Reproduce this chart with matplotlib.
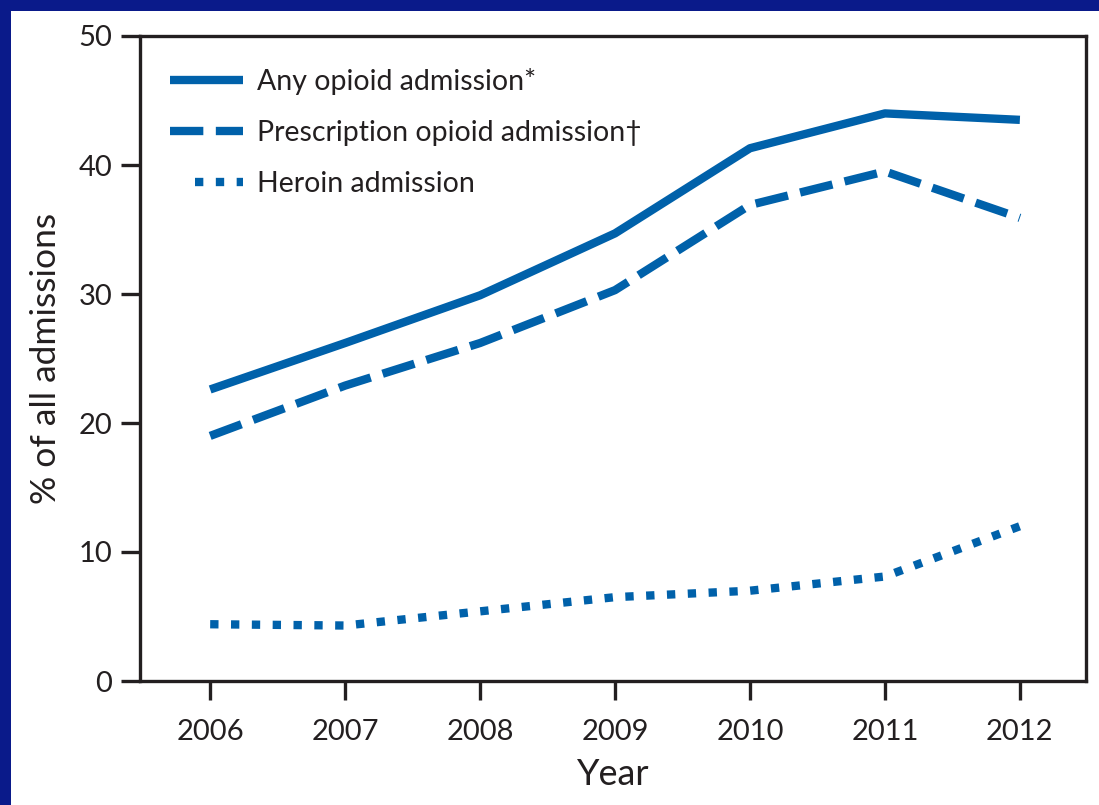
"""Opioid treatment admissions, 2006-2012."""

import matplotlib

matplotlib.use("Agg")

import matplotlib.pyplot as plt
from matplotlib.lines import Line2D
from matplotlib.patches import Rectangle

years = [2006, 2007, 2008, 2009, 2010, 2011, 2012]
any_opioid = [22.6, 26.2, 29.9, 34.7, 41.3, 44.0, 43.5]
prescription_opioid = [19.0, 22.9, 26.2, 30.3, 36.9, 39.5, 35.9]
heroin = [4.4, 4.3, 5.4, 6.5, 7.0, 8.1, 12.0]

labels = [
    "Any opioid admission*",
    "Prescription opioid admission\u2020",
    "Heroin admission",
]
y_ticks = [0, 10, 20, 30, 40, 50]

line_color = "#0061aa"
ink = "#231f20"

plt.rcParams["font.family"] = ["Lato", "DejaVu Sans"]

fig = plt.figure(figsize=(10.99, 8.05), dpi=100)
fig.patch.set_facecolor("#0a1a8a")
# white slide panel behind the chart
panel = Rectangle((11 / 1099, 0), 1, (805 - 11) / 805,
                  transform=fig.transFigure, facecolor="white", edgecolor="none", zorder=-10)
fig.add_artist(panel)

ax = fig.add_axes([140 / 1099, 124 / 805, (1086 - 140) / 1099, (681 - 36) / 805])
ax.set_facecolor("white")

l_any, = ax.plot(years, any_opioid, color=line_color, linewidth=6, solid_capstyle="butt")
l_rx, = ax.plot(years, prescription_opioid, color=line_color, linewidth=6,
                dashes=(4, 1.5), dash_capstyle="butt")
ax.plot(years, heroin, color=line_color, linewidth=6,
        dashes=(1, 1.5), dash_capstyle="butt")

# legend key for heroin: three dots pushed to the right end, like the original
heroin_key = Line2D([], [], color=line_color, linewidth=6, dash_capstyle="butt",
                    linestyle=(7.5, (1, 1.5, 1, 1.5, 1, 4.5)))

ax.set_xlim(2005.48, 2012.49)
ax.set_ylim(0, 50)
ax.set_xticks(years)
ax.set_yticks(y_ticks)

for side in ["left", "right", "top", "bottom"]:
    ax.spines[side].set_color(ink)
    ax.spines[side].set_linewidth(2.4)

ax.tick_params(axis="both", direction="out", length=14, width=2.4, color=ink,
               labelsize=21, labelcolor=ink)
ax.tick_params(axis="x", pad=13)
ax.tick_params(axis="y", pad=6)

ax.set_xlabel("Year", fontsize=26, color=ink, labelpad=10)
ax.set_ylabel("% of all admissions", fontsize=25.5, color=ink, labelpad=12)

ax.legend([l_any, l_rx, heroin_key], labels,
          loc="upper left", bbox_to_anchor=(0.02, 0.968), frameon=False,
          fontsize=20.5, handlelength=2.55, handletextpad=0.5, labelspacing=0.88,
          labelcolor=ink, borderaxespad=0)

fig.savefig("out.png", dpi=100, facecolor=fig.get_facecolor())
